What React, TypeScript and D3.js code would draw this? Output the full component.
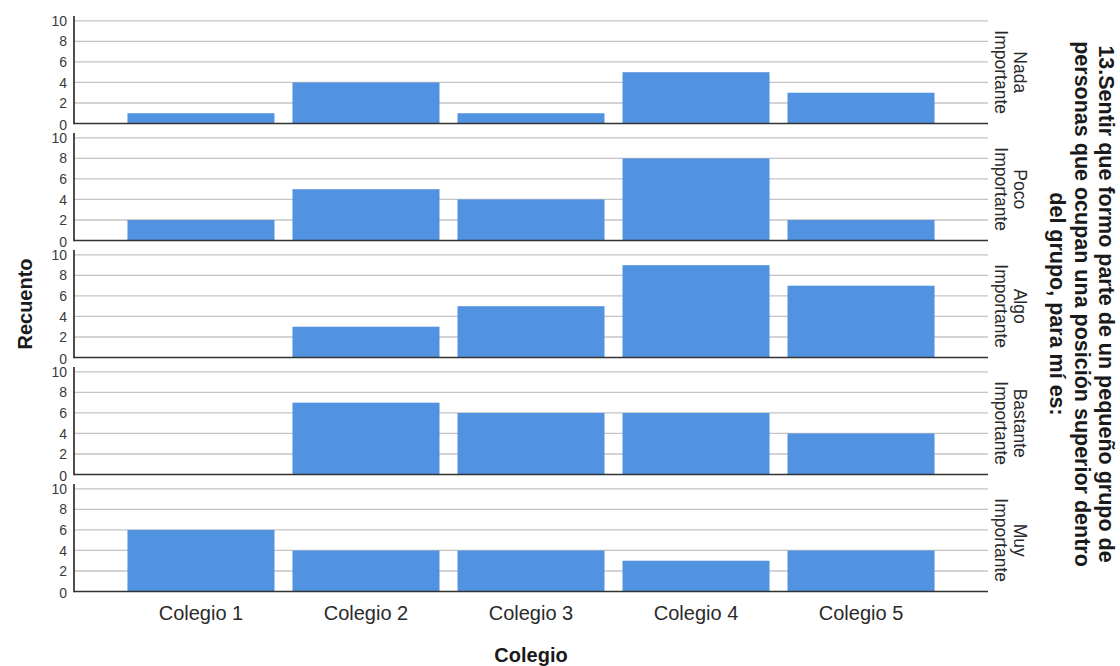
import React from "react";
import * as d3 from "d3";

const colleges = ["Colegio 1", "Colegio 2", "Colegio 3", "Colegio 4", "Colegio 5"];
const levels = [
  ["Nada", "Importante"],
  ["Poco", "Importante"],
  ["Algo", "Importante"],
  ["Bastante", "Importante"],
  ["Muy", "Importante"],
];
const nadaValues = [1, 4, 1, 5, 3];
const pocoValues = [2, 5, 4, 8, 2];
const algoValues = [0, 3, 5, 9, 7];
const bastanteValues = [0, 7, 6, 6, 4];
const muyValues = [6, 4, 4, 3, 4];
const yTicks = [0, 2, 4, 6, 8, 10];
const titleLines = [
  "13.Sentir que formo parte de un pequeño grupo de",
  "personas que ocupan una posición superior dentro",
  "del grupo, para mí es:",
];

const panelValues = [nadaValues, pocoValues, algoValues, bastanteValues, muyValues];

export default function App() {
  const W = 1120, H = 666;
  const left = 74, right = 988;
  const firstZero = 123.5, panelStep = 117, panelH = 102.6;
  const x = d3.scaleBand<string>().domain(colleges).range([left, right]).paddingInner(0.109).paddingOuter(0.324);
  const font = "'Liberation Sans', Arial, sans-serif";
  const barColor = "#5192e1";

  return (
    <svg width={W} height={H} style={{ position: "absolute", left: 0, top: 0, background: "#fff" }} fontFamily={font}>
      {panelValues.map((vals, pi) => {
        const zero = firstZero + pi * panelStep;
        const y = d3.scaleLinear().domain([0, 10]).range([zero, zero - panelH]);
        const mid = zero - panelH / 2;
        return (
          <g key={pi}>
            {yTicks.filter(t => t > 0).map(t => (
              <line key={t} x1={left} x2={right} y1={y(t)} y2={y(t)} stroke="#c4c4c4" strokeWidth={1.3} />
            ))}
            {vals.map((v, i) => v > 0 ? (
              <rect key={i} x={x(colleges[i])} width={x.bandwidth()} y={y(v)} height={zero - y(v)} fill={barColor} />
            ) : null)}
            <line x1={left} x2={right} y1={zero} y2={zero} stroke="#333" strokeWidth={1.6} />
            <line x1={left} x2={left} y1={zero - panelH - 5} y2={zero + 0.8} stroke="#222" strokeWidth={1.6} />
            {yTicks.map(t => (
              <text key={t} x={67} y={y(t) + (t === 0 ? 1 : t === 10 ? 0.5 : 0)} dy="0.36em" textAnchor="end" fontSize={14} fill="#3a3a3a">{t}</text>
            ))}
            <text transform={`translate(${1020},${mid}) rotate(90)`} textAnchor="middle" fontSize={17.5} fill="#2a2a2a">
              <tspan x={0} y={0} dy="0.35em">{levels[pi][0]}</tspan>
              <tspan x={0} y={18.5} dy="0.35em">{levels[pi][1]}</tspan>
            </text>
          </g>
        );
      })}
      {colleges.map(c => (
        <text key={c} x={(x(c) as number) + x.bandwidth() / 2} y={613} dy="0.35em" textAnchor="middle" fontSize={20} fill="#2a2a2a">{c}</text>
      ))}
      <text x={(left + right) / 2} y={655} dy="0.35em" textAnchor="middle" fontSize={20} fontWeight="bold" fill="#1a1a1a">Colegio</text>
      <text transform={`translate(25,${304}) rotate(-90)`} textAnchor="middle" dy="0.35em" fontSize={20} fontWeight="bold" fill="#1a1a1a">Recuento</text>
      <text transform={`translate(1107,${304}) rotate(90)`} textAnchor="middle" fontSize={21.5} fontWeight="bold" fill="#1a1a1a">
        {titleLines.map((l, i) => (
          <tspan key={i} x={0} y={i * 24.5} dy="0.35em">{l}</tspan>
        ))}
      </text>
    </svg>
  );
}
